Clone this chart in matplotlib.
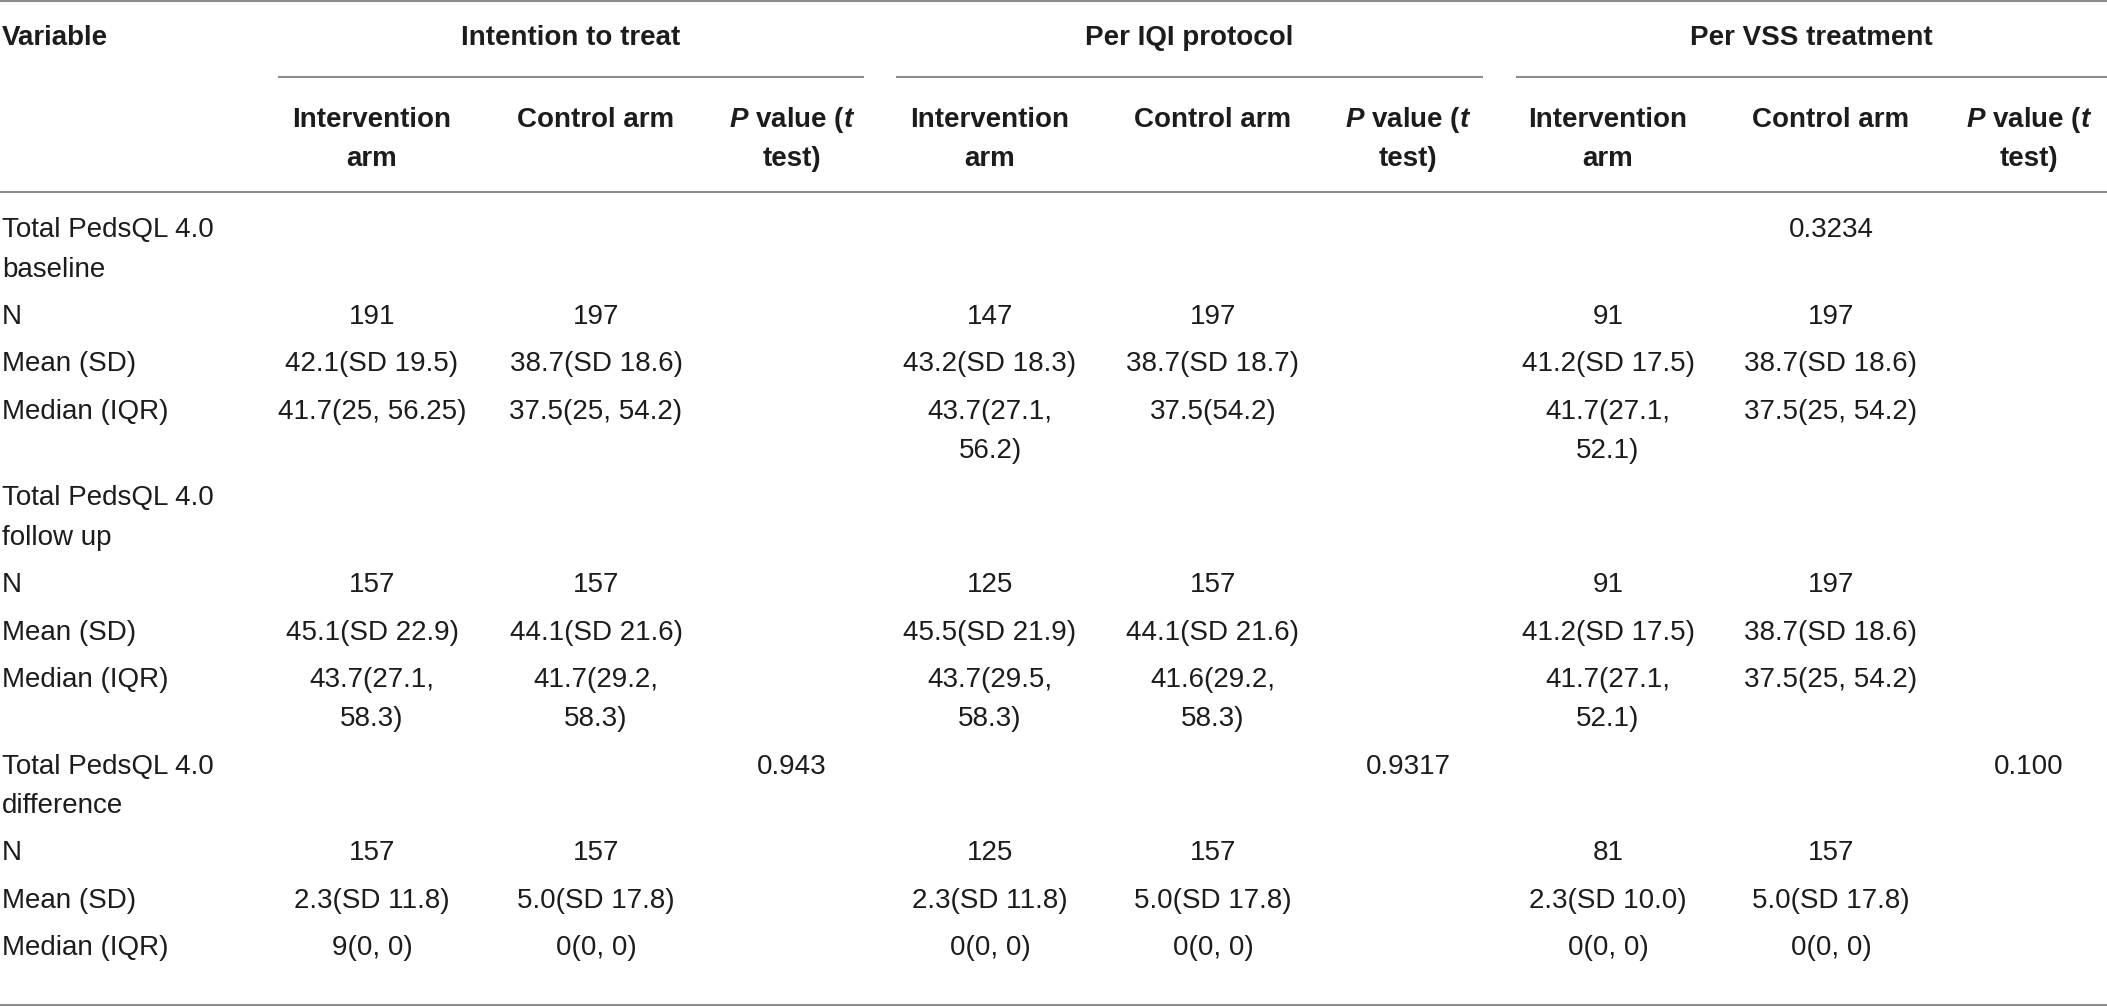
import matplotlib
matplotlib.use("Agg")
import matplotlib.pyplot as plt

plt.rcParams['font.family'] = ['Liberation Sans', 'DejaVu Sans']
plt.rcParams['mathtext.fontset'] = 'custom'
plt.rcParams['mathtext.it'] = 'Liberation Sans:bold:italic'
plt.rcParams['mathtext.rm'] = 'Liberation Sans:bold'

# table content
groups = ["Intention to treat", "Per IQI protocol", "Per VSS treatment"]
sub_headers = ["Intervention\narm", "Control arm", r"$\mathit{P}$ value ($\mathit{t}$" + "\ntest)"]

row_labels = ["Total PedsQL 4.0\nbaseline", "N", "Mean (SD)", "Median (IQR)",
              "Total PedsQL 4.0\nfollow up", "N", "Mean (SD)", "Median (IQR)",
              "Total PedsQL 4.0\ndifference", "N", "Mean (SD)", "Median (IQR)"]

itt_int = ["", "191", "42.1(SD 19.5)", "41.7(25, 56.25)",
           "", "157", "45.1(SD 22.9)", "43.7(27.1,\n58.3)",
           "", "157", "2.3(SD 11.8)", "9(0, 0)"]
itt_ctl = ["", "197", "38.7(SD 18.6)", "37.5(25, 54.2)",
           "", "157", "44.1(SD 21.6)", "41.7(29.2,\n58.3)",
           "", "157", "5.0(SD 17.8)", "0(0, 0)"]
itt_p = ["", "", "", "", "", "", "", "", "0.943", "", "", ""]

iqi_int = ["", "147", "43.2(SD 18.3)", "43.7(27.1,\n56.2)",
           "", "125", "45.5(SD 21.9)", "43.7(29.5,\n58.3)",
           "", "125", "2.3(SD 11.8)", "0(0, 0)"]
iqi_ctl = ["", "197", "38.7(SD 18.7)", "37.5(54.2)",
           "", "157", "44.1(SD 21.6)", "41.6(29.2,\n58.3)",
           "", "157", "5.0(SD 17.8)", "0(0, 0)"]
iqi_p = ["", "", "", "", "", "", "", "", "0.9317", "", "", ""]

vss_int = ["", "91", "41.2(SD 17.5)", "41.7(27.1,\n52.1)",
           "", "91", "41.2(SD 17.5)", "41.7(27.1,\n52.1)",
           "", "81", "2.3(SD 10.0)", "0(0, 0)"]
vss_ctl = ["0.3234", "197", "38.7(SD 18.6)", "37.5(25, 54.2)",
           "", "197", "38.7(SD 18.6)", "37.5(25, 54.2)",
           "", "157", "5.0(SD 17.8)", "0(0, 0)"]
vss_p = ["", "", "", "", "", "", "", "", "0.100", "", "", ""]

columns = [itt_int, itt_ctl, itt_p, iqi_int, iqi_ctl, iqi_p, vss_int, vss_ctl, vss_p]

# layout (pixels)
W, H = 2107, 1007
col_x = [372, 596, 792, 990, 1213, 1408, 1608, 1831, 2029]
group_span = [(278, 864), (896, 1483), (1516, 2107)]
label_x = 2
line_step = 39.3
row_gap = 47.4
fs = 20
text_color = '#1c1c1c'
rule_color = '#8c8c8c'

fig = plt.figure(figsize=(W / 100, H / 100), dpi=100)
ax = fig.add_axes([0, 0, 1, 1])
ax.set_xlim(0, W)
ax.set_ylim(H, 0)
ax.axis('off')


def put(x, y, s, ha='center', weight='normal'):
    for k, line in enumerate(s.split('\n')):
        if line:
            ax.text(x, y + k * line_step, line, ha=ha, va='baseline',
                    fontsize=fs, fontweight=weight, color=text_color)


# rules
ax.plot([0, W], [1, 1], color=rule_color, lw=1.5, solid_capstyle='butt')
ax.plot([0, W], [192, 192], color=rule_color, lw=1.5, solid_capstyle='butt')
ax.plot([0, W], [1004.5, 1004.5], color=rule_color, lw=1.5, solid_capstyle='butt')
for x0, x1 in group_span:
    ax.plot([x0, x1], [77, 77], color=rule_color, lw=1.5, solid_capstyle='butt')

# header
put(label_x, 45, "Variable", ha='left', weight='bold')
for (x0, x1), g in zip(group_span, groups):
    put((x0 + x1) / 2, 45, g, weight='bold')
for i, x in enumerate(col_x):
    put(x, 126.7, sub_headers[i % 3], weight='bold')

# body
y = 237.3
for r, lab in enumerate(row_labels):
    put(label_x, y, lab, ha='left')
    nlines = lab.count('\n') + 1
    for c, col in enumerate(columns):
        put(col_x[c], y, col[r])
        nlines = max(nlines, col[r].count('\n') + 1)
    y += (nlines - 1) * line_step + row_gap

fig.savefig('out.png', dpi=100, facecolor='white')
